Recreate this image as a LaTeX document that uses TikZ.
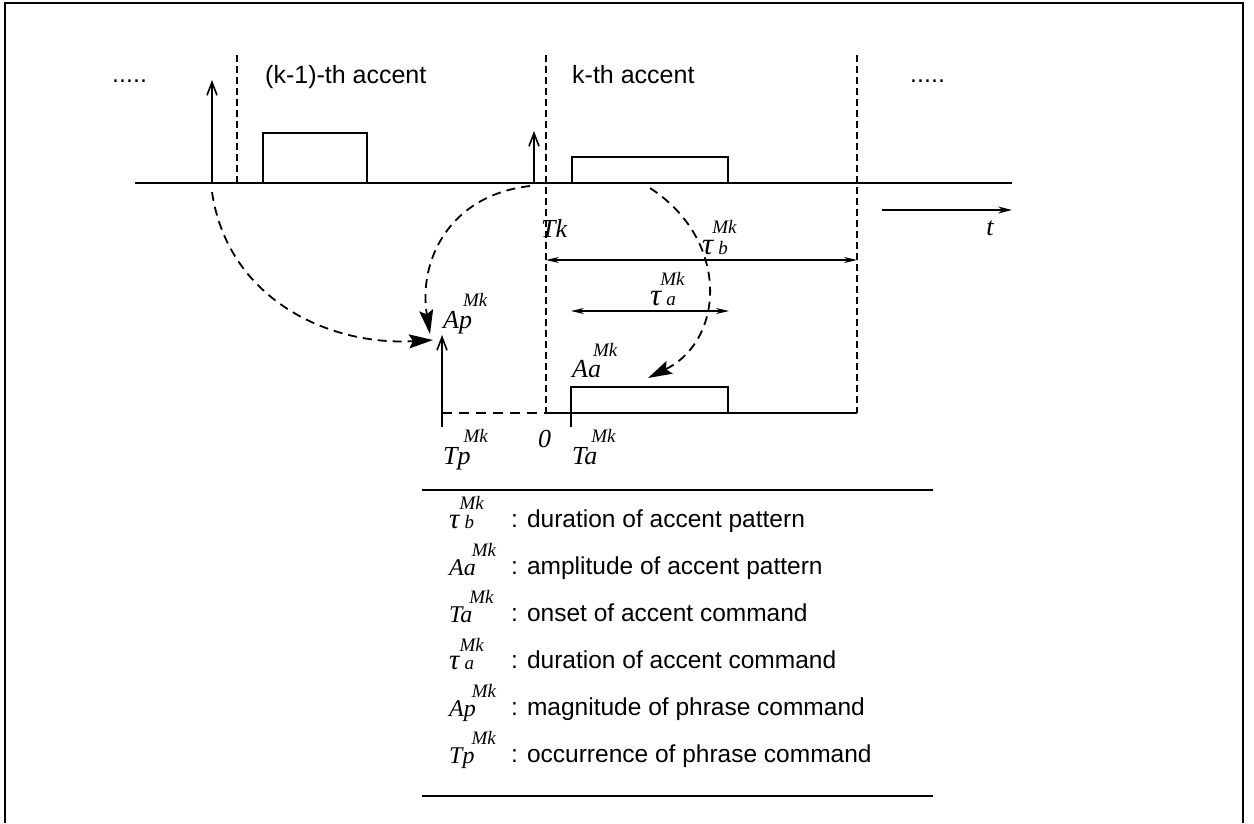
\documentclass[tikz,border=0pt]{standalone}
\usepackage{fontspec}
\setmainfont{Liberation Sans}
\newfontfamily\lbs{Liberation Serif}
\usetikzlibrary{arrows.meta}
\newcommand\MkSup[2]{\kern#2\raisebox{#1}{\fontsize{19}{19}\selectfont Mk}}
\newcommand\TauLab[4]{{\fontsize{#4}{#4}\selectfont τ}\kern5pt\rlap{\kern#3\raisebox{#2}{\fontsize{19}{19}\selectfont Mk}}{\fontsize{19}{19}\selectfont #1}}
\tikzset{
  ln/.style={line width=1.6pt},
  vdash/.style={line width=1.6pt, dash pattern=on 7pt off 4pt},
  hdash/.style={line width=1.6pt, dash pattern=on 10pt off 7pt},
  curvearrow/.style={line width=1.8pt, dash pattern=on 9pt off 6pt,
    -{Stealth[length=24pt,width=14pt,inset=4pt]}},
  impulse/.style={line width=1.6pt, -{Straight Barb[length=13pt,width=10pt,line width=1.6pt]}},
  dur/.style={line width=1.3pt, {Stealth[length=13pt,width=6pt]}-{Stealth[length=13pt,width=6pt]}},
  hdr/.style={font=\fontsize{25}{30}\selectfont, inner sep=0pt},
  lab/.style={font=\fontsize{26}{30}\selectfont\lbs\itshape, inner sep=0pt, anchor=base west},
  leglab/.style={font=\fontsize{24}{27}\selectfont\lbs\itshape, inner sep=0pt, anchor=base west},
  leg/.style={font=\fontsize{24.5}{30}\selectfont, inner sep=0pt, anchor=base west}
}
\begin{document}
\begin{tikzpicture}[x=1pt,y=-1pt]
\useasboundingbox (0,0) rectangle (1254,823);
% frame
\coordinate (fbl) at (5,823);
\coordinate (ftl) at (5,3);
\coordinate (ftr) at (1243,3);
\coordinate (fbr) at (1243,823);
\draw[line width=1.8pt] (fbl) -- (ftl) -- (ftr) -- (fbr);

% headers
\node[hdr, anchor=base west] (dotsL) at (112,82) {.....};
\node[hdr, anchor=west] (hk1) at (265,77) {(k-1)-th accent};
\node[hdr, anchor=west] (hk) at (572,75) {k-th accent};
\node[hdr, anchor=base west] (dotsR) at (910,82) {.....};

% main axis
\coordinate (axL) at (135,183);
\coordinate (axR) at (1012,183);
\draw[ln] (axL) -- (axR);

% impulses
\coordinate (imp1b) at (212,183);
\coordinate (imp1t) at (212,80);
\draw[impulse] (imp1b) -- (imp1t);
\coordinate (imp2b) at (534,183);
\coordinate (imp2t) at (534,131);
\draw[impulse] (imp2b) -- (imp2t);

% dashed verticals
\coordinate (v1t) at (237,55);
\coordinate (v1b) at (237,183);
\draw[vdash] (v1t) -- (v1b);
\coordinate (v2t) at (546,55);
\coordinate (v2b) at (546,413);
\draw[vdash] (v2t) -- (v2b);
\coordinate (v3t) at (857,55);
\coordinate (v3b) at (857,413);
\draw[vdash] (v3t) -- (v3b);

% accent rectangles on the axis
\coordinate (r1a) at (263,183);
\coordinate (r1b) at (367,133);
\draw[ln] (r1a) |- (r1b) -- (r1b |- r1a);
\coordinate (r2a) at (572,183);
\coordinate (r2b) at (728,157);
\draw[ln] (r2a) |- (r2b) -- (r2b |- r2a);

% time arrow
\coordinate (tL) at (882,210);
\coordinate (tR) at (1012,210);
\draw[line width=1.6pt, -{Stealth[length=14pt,width=7pt]}] (tL) -- (tR);
\node[lab, anchor=base] (tlab) at (990,235) {t};

% labels of the model
\node[lab] (Tk) at (541,237) {Tk};
\node[lab] (taub) at (702,254) {\TauLab{b}{21pt}{-6pt}{31}};
\node[lab] (taua) at (650,305) {\TauLab{a}{20pt}{-6pt}{31}};
\node[lab] (Ap) at (443,328) {Ap\MkSup{22pt}{-9pt}};
\node[lab] (Aa) at (572,377) {Aa\MkSup{21pt}{-8pt}};
\node[lab] (Tp) at (443,464) {Tp\MkSup{22pt}{-7pt}};
\node[lab] (Ta) at (572,464) {Ta\MkSup{22pt}{-6pt}};
\node[lab] (zero) at (538,447) {0};

% duration arrows
\coordinate (tbL) at (546,260);
\coordinate (tbR) at (857,260);
\draw[dur] (tbL) -- (tbR);
\coordinate (taL) at (571,311);
\coordinate (taR) at (729,311);
\draw[dur] (taL) -- (taR);

% lower command graph
\coordinate (base0) at (546,413);
\coordinate (baseR) at (857,413);
\draw[ln] (base0) -- (baseR);
\coordinate (ctick) at (571,427);
\coordinate (ctop) at (728,387);
\draw[ln] (ctick) |- (ctop) -- (ctop |- base0);
\coordinate (pb) at (442,427);
\coordinate (pt) at (442,335);
\draw[impulse] (pb) -- (pt);
\coordinate (pbase) at (442,413);
\draw[hdash] (pbase) -- (base0);

% dashed mapping curves
\coordinate (c1s) at (212,192);
\coordinate (c1e) at (433,340);
\draw[curvearrow] (c1s) .. controls (228,300) and (330,346) .. (c1e);
\coordinate (c2s) at (530,186);
\coordinate (c2e) at (430,334);
\draw[curvearrow] (c2s) .. controls (450,195) and (418,260) .. (c2e);
\coordinate (c3s) at (650,188);
\coordinate (c3e) at (648,378);
\draw[curvearrow] (c3s) .. controls (730,240) and (725,340) .. (c3e);

% legend
\coordinate (lgTL) at (422,490);
\coordinate (lgTR) at (933,490);
\draw[line width=1.6pt] (lgTL) -- (lgTR);
\coordinate (lgBL) at (422,796);
\coordinate (lgBR) at (933,796);
\draw[line width=1.6pt] (lgBL) -- (lgBR);

\node[leglab] (s1) at (449,528) {\TauLab{b}{19pt}{-5pt}{29}};
\node[leg] (t1) at (511,527) {: duration of accent pattern};
\node[leglab] (s2) at (449,575) {Aa\MkSup{19pt}{-4pt}};
\node[leg] (t2) at (511,574) {: amplitude of accent pattern};
\node[leglab] (s3) at (449,622) {Ta\MkSup{19pt}{-3pt}};
\node[leg] (t3) at (511,621) {: onset of accent command};
\node[leglab] (s4) at (449,669) {\TauLab{a}{18pt}{-5pt}{29}};
\node[leg] (t4) at (511,668) {: duration of accent command};
\node[leglab] (s5) at (449,716) {Ap\MkSup{19pt}{-4pt}};
\node[leg] (t5) at (511,715) {: magnitude of phrase command};
\node[leglab] (s6) at (449,763) {Tp\MkSup{19pt}{-3pt}};
\node[leg] (t6) at (511,762) {: occurrence of phrase command};
\end{tikzpicture}
\end{document}
